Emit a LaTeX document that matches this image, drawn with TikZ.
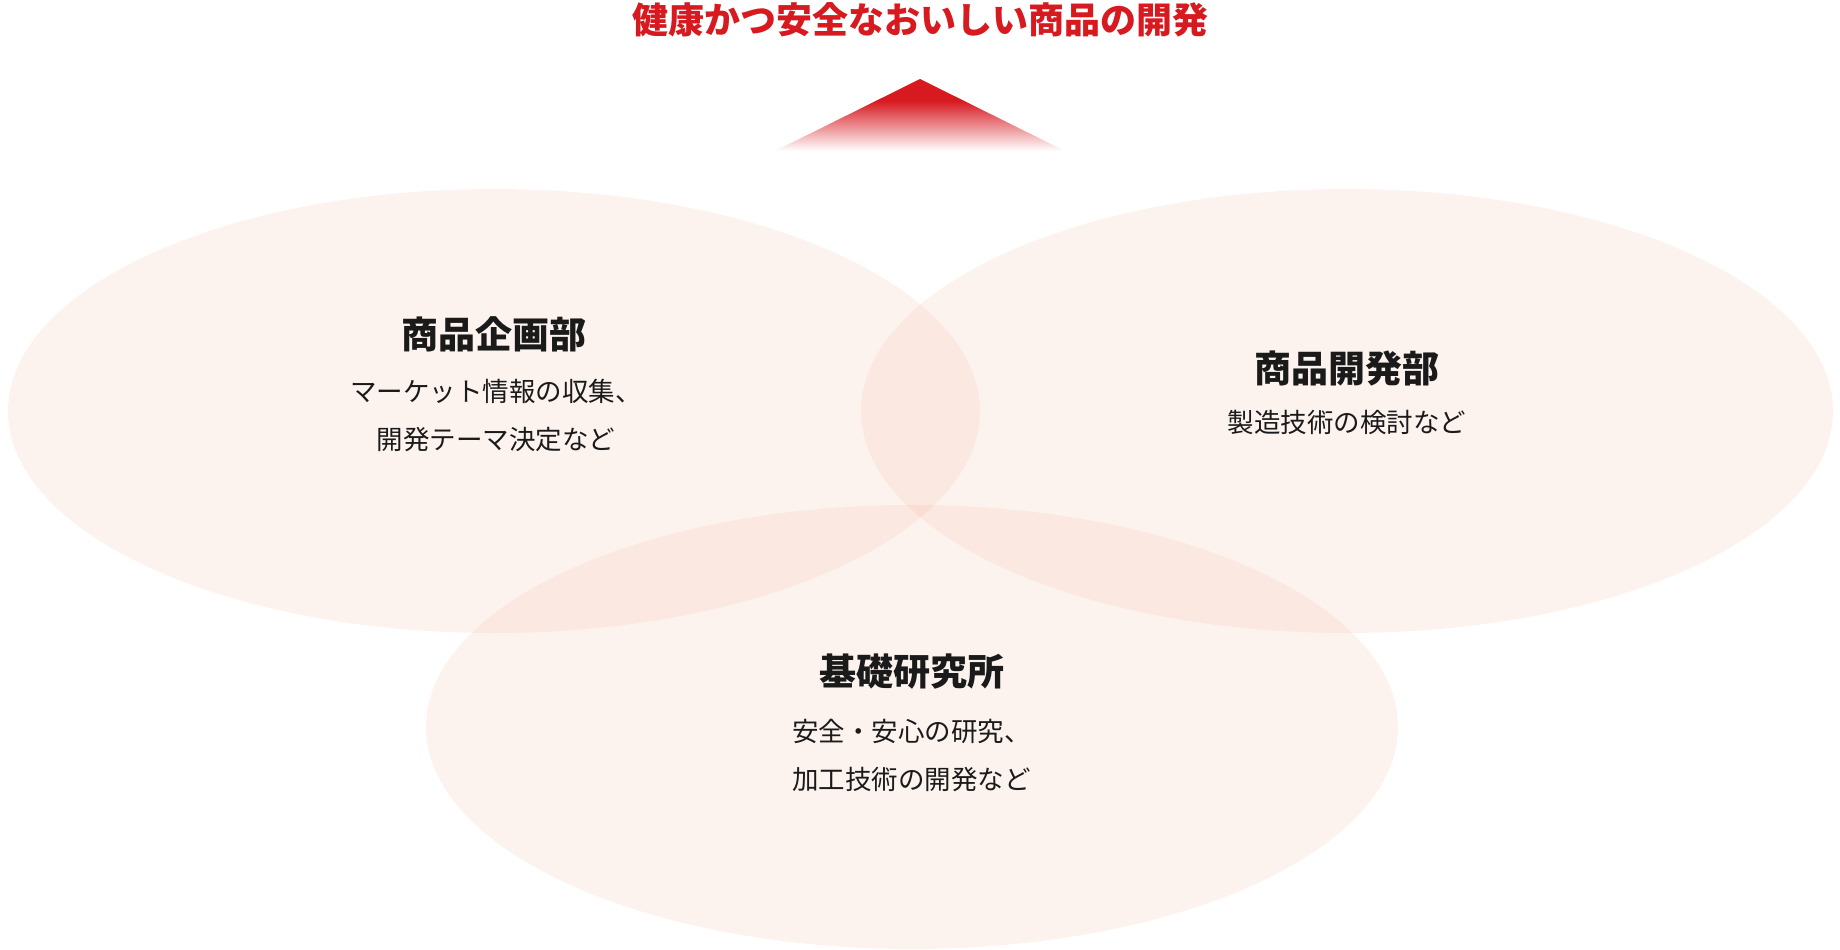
\documentclass[tikz,border=0pt]{standalone}
\usepackage{fontspec}
\setmainfont{Noto Sans CJK JP}
\definecolor{goalred}{RGB}{215,25,32}
\definecolor{petal}{RGB}{225,120,80}
\definecolor{ink}{RGB}{26,26,26}
\pgfdeclareverticalshading{goalfade}{100bp}{color(0bp)=(white); color(25bp)=(white); color(60bp)=(goalred); color(100bp)=(goalred)}
\tikzset{
  petalfill/.style={fill=petal, fill opacity=0.09},
  headtext/.style={inner sep=0pt, text=ink, font=\bfseries\fontsize{37}{40}\selectfont},
  bodytext/.style={inner sep=0pt, text=ink, font=\fontsize{26.5}{48}\selectfont},
}
\begin{document}
\begin{tikzpicture}[x=1pt, y=-1pt]
      \useasboundingbox (0,0) rectangle (1840,950);
      % three divisions
      \begin{scope}
        \fill[petalfill] (494,411) ellipse [x radius=486pt, y radius=222pt];
        \fill[petalfill] (1347,411) ellipse [x radius=486pt, y radius=222pt];
        \fill[petalfill] (912,727) ellipse [x radius=486pt, y radius=222pt];
      \end{scope}
      % goal
      \node[inner sep=0pt, text=goalred, font=\bfseries\fontsize{36}{40}\selectfont] (goal) at (920,20) {健康かつ安全なおいしい商品の開発};
      \coordinate (tip) at (920,79);
      \coordinate (baseL) at (775,151);
      \coordinate (baseR) at (1065,151);
      \shade[shading=goalfade] (tip) -- (baseR) -- (baseL) -- cycle;
      \draw
        (494,334) node[headtext] (plan){商品企画部}
        (496,415) node[bodytext, align=center] (plantext){マーケット情報の収集、\\開発テーマ決定など}
        (1347,369) node[headtext] (dev){商品開発部}
        (1347,422) node[bodytext] (devtext){製造技術の検討など}
        (912,672) node[headtext] (lab){基礎研究所}
        (792,755) node[bodytext, align=left, anchor=west] (labtext){安全・安心の研究、\\加工技術の開発など};
    \end{tikzpicture}
\end{document}
